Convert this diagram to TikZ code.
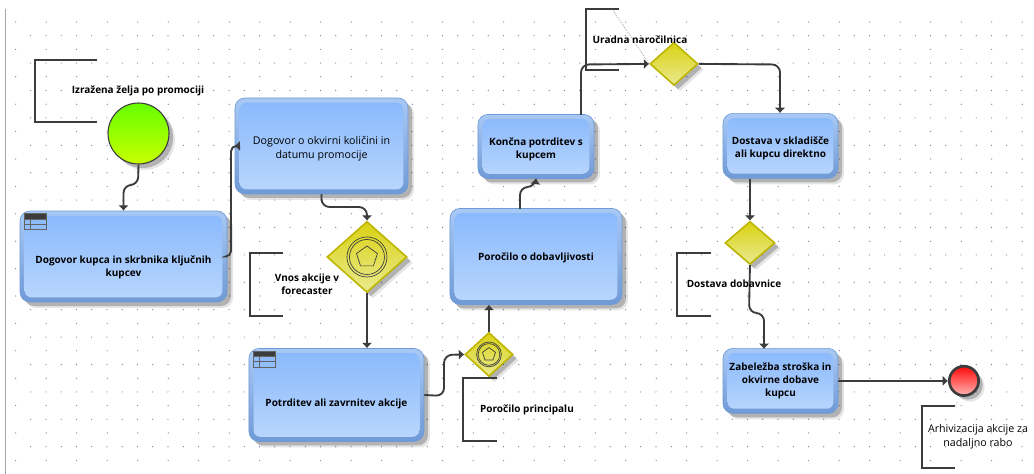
\documentclass[tikz,border=0pt]{standalone}
\usepackage{fontspec}
\setmainfont{Open Sans}
\usetikzlibrary{arrows.meta, positioning, shapes.geometric, shadows}

\definecolor{taskrim}{HTML}{6F9AD6}
\definecolor{taskrimlight}{HTML}{A9C9F4}
\definecolor{tasktop}{HTML}{88B8FC}
\definecolor{taskbottom}{HTML}{BAD7FD}
\definecolor{gateedge}{HTML}{BDB500}
\definecolor{gatetop}{HTML}{D9D212}
\definecolor{gatebottom}{HTML}{EAEA90}
\definecolor{linedark}{HTML}{3C3C3C}
\definecolor{griddot}{HTML}{4A4A9A}
\definecolor{startop}{HTML}{66FF00}
\definecolor{starbottom}{HTML}{C8FF00}
\definecolor{endtop}{HTML}{FF0A0A}
\definecolor{endbottom}{HTML}{FFB4B4}

\tikzset{
    softshadow/.style={drop shadow={shadow xshift=4.5pt, shadow yshift=-4.5pt, fill=black, opacity=0.1},
                       drop shadow={shadow xshift=3pt, shadow yshift=-3pt, fill=black, opacity=0.22}},
    taskbox/.style={rectangle, rounded corners=7.5pt, softshadow, draw=taskrim, line width=0.5pt,
                    top color=taskrimlight, bottom color=taskrim, inner sep=0pt,
                    path picture={\shade[top color=tasktop, bottom color=taskbottom, rounded corners=5pt]
                        ([shift={(3.5pt,-3.5pt)}]path picture bounding box.north west) rectangle
                        ([shift={(-3.5pt,3.5pt)}]path picture bounding box.south east);}},
    gateway/.style={diamond, softshadow, draw=gateedge, line width=1.2pt, top color=gatetop, bottom color=gatebottom, inner sep=0pt},
    flow/.style={draw=linedark, line width=1.4pt, rounded corners=6pt, -{Latex[length=4pt, width=8pt]}},
    annot/.style={draw=linedark, line width=1.4pt},
    marktext/.style={font=\fontsize{7.5}{10}\selectfont\bfseries, align=center, inner sep=0pt},
    plaintext/.style={font=\fontsize{8}{10.5}\selectfont, align=center, inner sep=0pt}
}

\newcommand{\gatemark}[2]{
    \draw[linedark, line width=0.5pt] (#1) circle ({#2*20}) (#1) circle ({#2*17.5});
    \node[regular polygon, regular polygon sides=5, draw=linedark, line width=0.5pt, inner sep=0pt, minimum size={#2*16.5pt}] at (#1) {};
}
\newcommand{\tableicon}[1]{
    \fill[linedark] ([shift={(3.7pt,-2.2pt)}]#1) rectangle ++(16pt,-4pt);
    \draw[linedark!80, line width=0.5pt] ([shift={(3.7pt,-2.2pt)}]#1) rectangle ++(16pt,-12pt);
    \draw[linedark!80, line width=0.5pt] ([shift={(3.7pt,-10.2pt)}]#1) -- ++(16pt,0);
    \draw[linedark!80, line width=0.5pt] ([shift={(3.7pt,-6.2pt)}]#1) -- ++(16pt,0);
    \draw[linedark!80, line width=0.5pt] ([shift={(8pt,-6.2pt)}]#1) -- ++(0,-8pt);
}

\begin{document}
\begin{tikzpicture}[x=0.75pt, y=-0.75pt, on grid]
    \useasboundingbox (0,0) rectangle (1034,474);
    \fill[white] (0,0) rectangle (1034,474);
    \draw[black!35, line width=0.8pt] (5.5,9) -- (5.5,474);

    % pike mreze
    \foreach \row in {0,...,16}{
        \foreach \col in {0,...,33}{
            \fill[griddot!80] ({15.7+30.5*\col},{22+27.4*\row}) circle (0.6);
        }
    }
    \foreach \row in {0,...,15}{
        \foreach \col in {0,...,65}{
            \fill[griddot!80] ({30.7+15.25*\col},{35.7+27.4*\row}) circle (0.6);
        }
    }

    \node[taskbox, minimum width=155.25pt, minimum height=68.25pt, label={[marktext, yshift=-8.25pt]center:{Dogovor kupca in skrbnika ključnih\\kupcev}}](task1) at (123.5,256.5){};
    \node[circle, draw=linedark, line width=0.8pt, softshadow, top color=startop, bottom color=starbottom, minimum width=45.75pt, minimum height=45.75pt, inner sep=0pt,
          above right=92.25pt and 11.25pt of task1](start){};
    \node[taskbox, minimum width=129.75pt, minimum height=72pt, above right=82.9pt and 148.5pt of task1, label={[plaintext, yshift=-2.2pt]center:{Dogovor o okvirni količini in\\datumu promocije}}](task2){};
    \node[gateway, minimum width=60pt, minimum height=53.25pt, below right=83.25pt and 34.1pt of task2](gate1){};
    \node[taskbox, minimum width=131.25pt, minimum height=69.75pt, below left=103.5pt and 22.9pt of gate1, label={[marktext, yshift=-6.5pt]center:{Potrditev ali zavrnitev akcije}}](task3){};
    \node[gateway, minimum width=36pt, minimum height=33pt, above right=30.4pt and 114.4pt of task3](gate2){};
    \node[taskbox, minimum width=129pt, minimum height=72pt, above right=73.5pt and 35.25pt of gate2, label={[marktext, yshift=-1pt]center:{Poročilo o dobavljivosti}}](task4){};
    \node[taskbox, minimum width=87pt, minimum height=48pt, above=82.5pt of task4, label={[marktext, yshift=-2pt]center:{Končna potrditev s\\kupcem}}](task5){};
    \node[gateway, minimum width=36pt, minimum height=32.25pt, above right=61.9pt and 103.5pt of task5](gate3){};
    \node[taskbox, minimum width=86.25pt, minimum height=48.75pt, below right=61.5pt and 79.9pt of gate3, label={[marktext, yshift=-2pt]center:{Dostava v skladišče\\ali kupcu direktno}}](task6){};
    \node[gateway, minimum width=37.5pt, minimum height=32.25pt, below left=72.75pt and 22.9pt of task6](gate4){};
    \node[taskbox, minimum width=86.25pt, minimum height=48.75pt, below right=103.5pt and 22.9pt of gate4, label={[marktext]center:{Zabeležba stroška in\\okvirne dobave\\kupcu}}](task7){};
    \node[circle, draw=linedark, line width=2pt, softshadow, top color=endtop, bottom color=endbottom, minimum size=22pt, inner sep=0pt, right=137.6pt of task7](endev){};

    \gatemark{gate1}{1}
    \gatemark{gate2}{0.62}
    \tableicon{task1.north west}
    \tableicon{task3.north west}

    \draw[flow] (start.south) -- (138,185) -- (123.5,185) -- (task1.north);
    \draw[flow, rounded corners=4pt] (task1.east) -- (231,256.5) -- (231,146) [sharp corners] -- (task2.west);
    \draw[flow] (321.5,194) -- (321.5,207) -- (367,207) -- (gate1.north);
    \draw[flow] (gate1.south) -- (gate1.south |- task3.north);
    \draw[flow] (task3.east) -- (444,396) -- (444,355) -- (gate2.west);
    \draw[flow] (gate2.north) -- (gate2.north |- task4.south);
    \draw[flow] (520,209) -- (520,187) -- (535,187) -- (task5.south);
    \draw[flow] (581,115) -- (581,64.5) -- (gate3.west);
    \draw[flow] (gate3.east) -- (780,64.5) -- (task6.north -| 780,0);
    \draw[flow] (gate4.north |- task6.south) -- (gate4.north);
    \draw[flow] (gate4.south) -- (749,313) -- (764,313) -- (764,349);
    \draw[flow] (task7.east) -- (endev.west);

    \draw[annot] (97,60) -- (35,60) -- (35,122) -- (97,122);
    \draw[annot] (283,253) -- (250,253) -- (250,316) -- (283,316);
    \draw[annot] (497,378) -- (463,378) -- (463,441) -- (497,441);
    \draw[annot] (619,9) -- (586,9) -- (586,70) -- (619,70);
    \draw[annot] (711,253) -- (677,253) -- (677,316) -- (711,316);
    \draw[annot] (955,406) -- (922,406) -- (922,468) -- (955,468);
    \draw[black!50, line width=0.5pt, densely dotted] (612,9) -- (gate3.west);
    \draw[black!50, line width=0.5pt, densely dotted] (957,402) -- (955,406);

    \node[marktext](lbl1) at (138,91){Izražena želja po promociji};
    \node[marktext, below left=20.5pt and 45pt of gate1](lbl2){Vnos akcije v\\forecaster};
    \node[marktext](lbl3) at (527,410){Poročilo principalu};
    \node[marktext](lbl4) at (640,40){Uradna naročilnica};
    \node[marktext](lbl5) at (734,284){Dostava dobavnice};
    \node[plaintext](lbl6) at (978,437){Arhivizacija akcije za\\nadaljno rabo};
\end{tikzpicture}
\end{document}
